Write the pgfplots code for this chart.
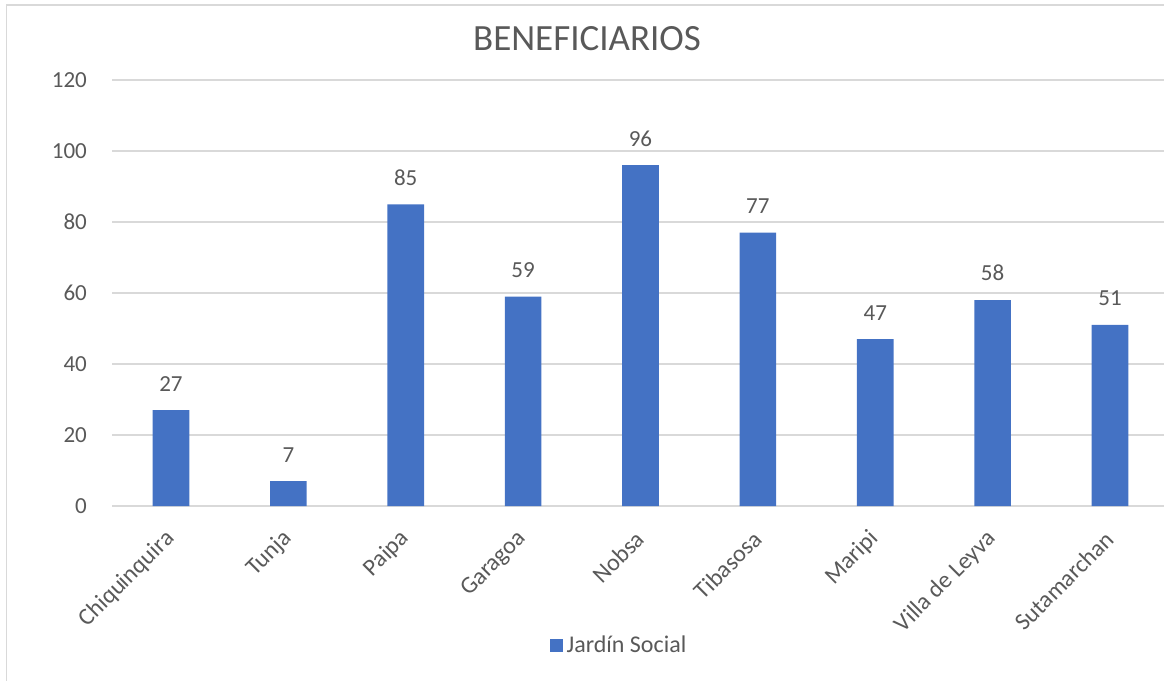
\documentclass[border=0pt]{standalone}
\usepackage{fontspec}
\setmainfont{Carlito}
\usepackage{pgfplots}
\pgfplotsset{compat=1.18}
\definecolor{barblue}{HTML}{4472C4}
\definecolor{txtgray}{HTML}{595959}
\definecolor{gridgray}{HTML}{D9D9D9}

\begin{document}
\begin{tikzpicture}
% picture frame: 1164x681 px at 0.5pt per px, axis origin at px (112.3,506)
\useasboundingbox (-56.15pt,-87.5pt) rectangle (525.85pt,253pt);
\draw[gridgray, line width=0.75pt] (-52.9pt,-95pt) -- (-52.9pt,250.5pt) -- (535pt,250.5pt);
\begin{axis}[
    at={(0,0)}, anchor=south west,
    scale only axis,
    width=528.2pt, height=213pt,
    xmin=-0.5, xmax=8.5,
    ymin=0, ymax=120,
    ytick={0,20,...,120},
    xtick={0,...,8},
    xticklabels={Chiquinquira,Tunja,Paipa,Garagoa,Nobsa,Tibasosa,Maripi,Villa de Leyva,Sutamarchan},
    axis line style={draw=none},
    major tick length=0pt,
    ymajorgrids,
    grid style={gridgray, line width=0.75pt},
    tick label style={font=\fontsize{11.5}{13}\selectfont, text=txtgray},
    /pgf/number format/assume math mode=true,
    yticklabel style={anchor=east, inner sep=0pt, xshift=-12.5pt},
    xticklabel style={inner sep=0pt, yshift=-14.5pt, rotate=45, anchor=east,
        font=\fontsize{12}{14}\selectfont},
    title={BENEFICIARIOS},
    title style={at={(axis description cs:0.4494,1)}, anchor=base, yshift=8.65pt,
        font=\fontsize{18.5}{21}\selectfont, text=txtgray},
    legend style={at={(axis description cs:0.4806,-0.3286)}, anchor=center,
        draw=none, fill=none, font=\fontsize{12}{14}\selectfont, text=txtgray,
        inner sep=0pt},
    legend image code/.code={\fill[barblue] (0pt,-3.25pt) rectangle (6.5pt,3.25pt);},
    nodes near coords,
    every node near coord/.append style={anchor=south, inner sep=0pt, yshift=9.3pt,
        font=\fontsize{11.5}{13}\selectfont, text=txtgray},
]
\addplot[ybar, bar width=18.3pt, fill=barblue, draw=none] coordinates {
(0,27) (1,7) (2,85) (3,59) (4,96) (5,77) (6,47) (7,58) (8,51)
};
\addlegendentry{Jardín Social}
\end{axis}
\end{tikzpicture}
\end{document}
